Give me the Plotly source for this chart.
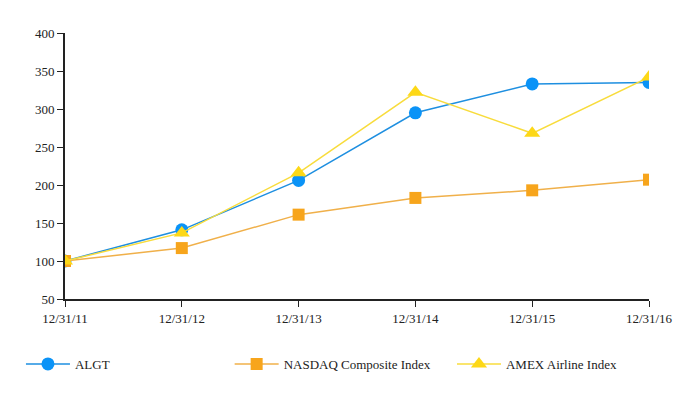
import plotly.graph_objects as go

dates = ["12/31/11", "12/31/12", "12/31/13", "12/31/14", "12/31/15", "12/31/16"]
algt = [100, 141, 206, 295, 333, 335]
nasdaq = [100, 117, 161, 183, 193, 207]
amex = [100, 137, 216, 322, 268, 342]
y_ticks = [50, 100, 150, 200, 250, 300, 350, 400]

FONT = "Liberation Serif, Times New Roman, serif"

fig = go.Figure()
fig.add_trace(go.Scatter(
    x=dates, y=algt, name="ALGT", mode="lines+markers", legend="legend",
    line=dict(color="#1E8FE0", width=1.5),
    marker=dict(symbol="circle", size=13, color="#0A93F7"),
))
fig.add_trace(go.Scatter(
    x=dates, y=nasdaq, name="NASDAQ Composite Index", mode="lines+markers",
    legend="legend2",
    line=dict(color="#F0B04A", width=1.5),
    marker=dict(symbol="square", size=12, color="#F7A51C"),
))
fig.add_trace(go.Scatter(
    x=dates, y=amex, name="AMEX Airline Index", mode="lines+markers",
    legend="legend3",
    line=dict(color="#F8DC3C", width=1.5),
    marker=dict(symbol="triangle-up", size=14, color="#FDD817"),
))

def leg(x):
    return dict(
        orientation="h", xref="container", yref="container",
        x=x, y=0.1475, xanchor="left", yanchor="top",
        itemwidth=44, bgcolor="rgba(0,0,0,0)",
        font=dict(family=FONT, size=13, color="#222"),
    )

fig.update_layout(
    width=682, height=400,
    margin=dict(l=57, r=41, t=25, b=109, autoexpand=False),
    paper_bgcolor="white", plot_bgcolor="white",
    font=dict(family=FONT, size=13, color="#222"),
    showlegend=True,
    legend=leg(0.019),
    legend2=leg(0.325),
    legend3=leg(0.651),
    xaxis=dict(
        type="category", range=[0, 5], showgrid=False, zeroline=False,
        showline=True, linecolor="#222", linewidth=2,
        ticks="outside", ticklen=6, tickcolor="#222", tickwidth=1,
        tickfont=dict(family=FONT, size=13, color="#222"),
    ),
    yaxis=dict(
        range=[50, 400], tickvals=y_ticks, showgrid=False, zeroline=False,
        showline=True, linecolor="#222", linewidth=2,
        ticks="outside", ticklen=6, tickcolor="#222", tickwidth=1,
        tickfont=dict(family=FONT, size=13, color="#222"),
    ),
)

fig.write_html("out.html")
